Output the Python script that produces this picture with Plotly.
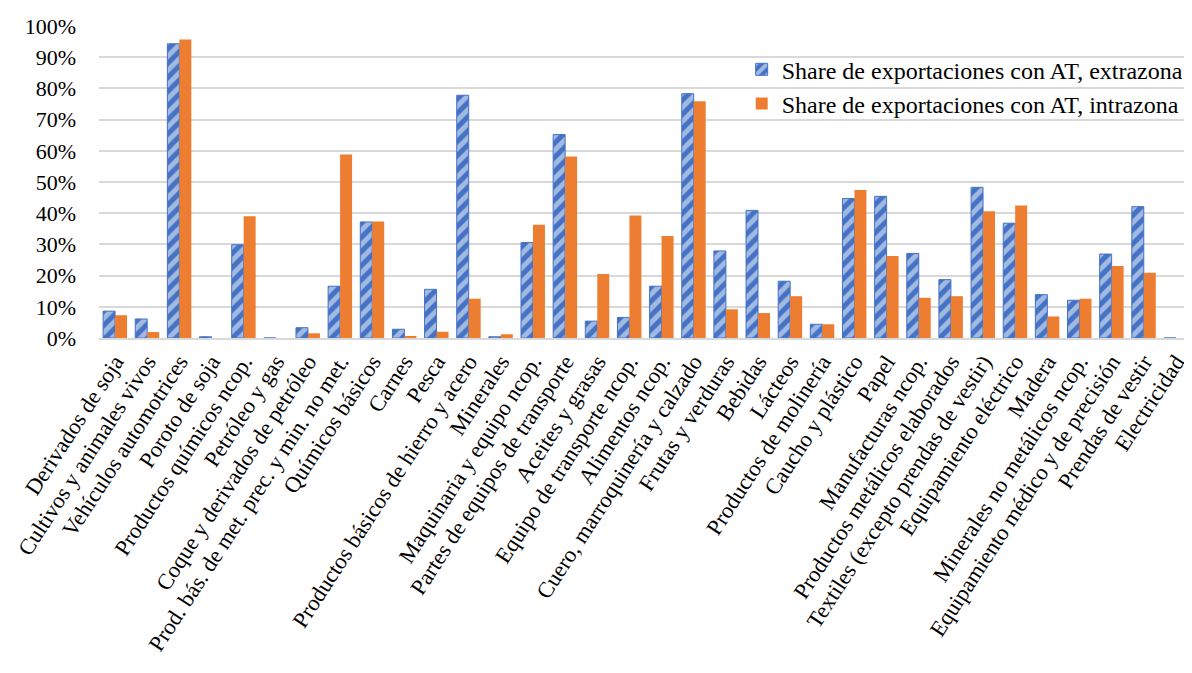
import plotly.graph_objects as go

categories = [
    "Derivados de soja", "Cultivos y animales vivos", "Vehículos automotrices", "Poroto de soja",
    "Productos químicos ncop.", "Petróleo y gas", "Coque y derivados de petróleo",
    "Prod. bás. de met. prec. y min. no met.", "Químicos básicos", "Carnes", "Pesca",
    "Productos básicos de hierro y acero", "Minerales", "Maquinaria y equipo ncop.",
    "Partes de equipos de transporte", "Aceites y grasas", "Equipo de transporte ncop.",
    "Alimentos ncop.", "Cuero, marroquinería y calzado", "Frutas y verduras", "Bebidas",
    "Lácteos", "Productos de molinería", "Caucho y plástico", "Papel", "Manufacturas ncop.",
    "Productos metálicos elaborados", "Textiles (excepto prendas de vestir)",
    "Equipamiento eléctrico", "Madera", "Minerales no metálicos ncop.",
    "Equipamiento médico y de precisión", "Prendas de vestir", "Electricidad",
]

extrazona = [8.6, 6.1, 94.3, 0.4, 29.9, 0.0, 3.3, 16.6, 37.2, 2.8, 15.6, 77.8, 0.4, 30.6,
             65.2, 5.4, 6.6, 16.6, 78.3, 27.9, 40.9, 18.2, 4.4, 44.7, 45.4, 27.1, 18.7,
             48.3, 36.8, 13.9, 12.1, 26.9, 42.1, 0.0]
intrazona = [7.3, 1.9, 95.7, 0.0, 39.0, 0.0, 1.5, 58.8, 37.3, 0.5, 2.0, 12.6, 1.2, 36.3,
             58.2, 20.5, 39.3, 32.7, 75.9, 9.2, 8.0, 13.4, 4.4, 47.4, 26.3, 12.9, 13.4,
             40.6, 42.5, 6.9, 12.6, 23.1, 20.9, 0.0]

series_names = ["Share de exportaciones con AT, extrazona", "Share de exportaciones con AT, intrazona"]

BLUE = "#4472C4"
ORANGE = "#ED7D31"
FONT = "Liberation Serif"

fig = go.Figure()
fig.add_trace(go.Bar(
    x=categories, y=[v / 100 for v in extrazona], name=series_names[0],
    marker=dict(color=BLUE, line=dict(color=BLUE, width=1),
                pattern=dict(shape="/", fgcolor="white", bgcolor=BLUE, size=10, solidity=0.5)),
))
fig.add_trace(go.Bar(
    x=categories, y=[v / 100 for v in intrazona], name=series_names[1],
    marker=dict(color=ORANGE, line=dict(width=0)),
))

# page body has an 8px margin, so the figure is sized to fill the rest of the window
fig.update_layout(
    width=1184, height=665,
    margin=dict(l=91, r=0, t=18, b=335),
    paper_bgcolor="white", plot_bgcolor="white",
    barmode="group", bargap=0.255, bargroupgap=0,
    font=dict(family=FONT, color="#000000", size=22),
    legend=dict(x=0.588, y=0.932, xanchor="left", yanchor="top",
                bgcolor="rgba(0,0,0,0)", font=dict(family=FONT, size=24, color="#000"),
                itemwidth=30, tracegroupgap=0),
    showlegend=True,
)
fig.update_yaxes(range=[0, 1.0], dtick=0.1, tickformat=".0%", showgrid=True,
                 gridcolor="#D9D9D9", gridwidth=1.5, zeroline=False, showline=False,
                 ticks="", ticklabelstandoff=22, automargin=False,
                 tickfont=dict(family=FONT, size=22, color="#000"))
fig.update_xaxes(showline=True, linecolor="#D9D9D9", linewidth=1.5, ticks="",
                 tickangle=-57, automargin=False, showgrid=False,
                 tickfont=dict(family=FONT, size=22.5, color="#000"))

fig.write_html("out.html")
